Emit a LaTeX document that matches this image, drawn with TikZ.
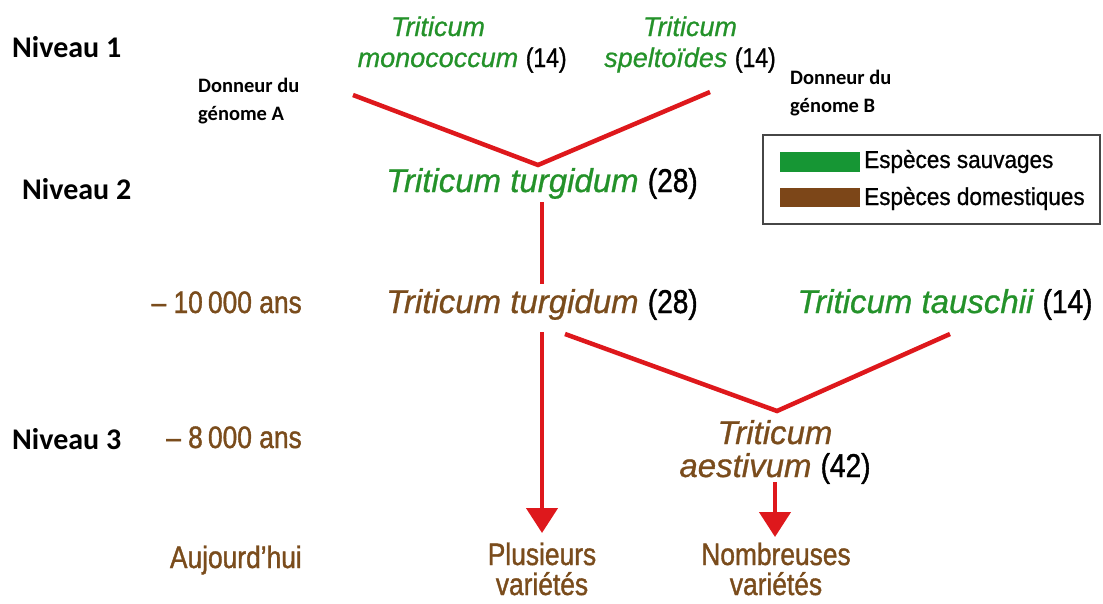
\documentclass[tikz,border=0pt]{standalone}
\usepackage{fontspec}
\setmainfont{Liberation Sans}
\newfontfamily\condfont[FakeStretch=0.85, FakeBold=1.2]{Liberation Sans}
\newfontfamily\specfont[FakeBold=0.8]{Liberation Sans}
\newfontfamily\legfont[FakeStretch=0.92, FakeBold=0.8]{Liberation Sans}
\newfontfamily\labelfont{Carlito}
\usetikzlibrary{arrows.meta}
\definecolor{wildgreen}{RGB}{36,146,42}
\definecolor{domebrown}{RGB}{122,76,28}
\definecolor{crossred}{RGB}{222,24,28}
\definecolor{boxgray}{RGB}{70,70,70}
\definecolor{swatchgreen}{RGB}{22,150,52}
\definecolor{swatchbrown}{RGB}{124,70,24}
\newcommand{\chromnb}[1]{{\color{black}\condfont\upshape(#1)}}

\begin{document}
\begin{tikzpicture}[
    x=1pt, y=-1pt,
    >={Triangle[width=31pt, length=25pt]},
    level/.style={anchor=base west, inner sep=0pt, font=\labelfont\bfseries\fontsize{30}{30}\selectfont},
    donor/.style={anchor=base west, inner sep=0pt, align=left, font=\labelfont\bfseries\fontsize{20.5}{28}\selectfont},
    wildsmall/.style={anchor=base, inner sep=0pt, align=center, text=wildgreen, font=\specfont\itshape\fontsize{27}{31}\selectfont},
    species/.style={anchor=base, inner sep=0pt, align=center, font=\specfont\itshape\fontsize{33}{33}\selectfont},
    era/.style={anchor=base east, inner sep=0pt, text=domebrown, font=\condfont\fontsize{31}{31}\selectfont},
    result/.style={anchor=base, inner sep=0pt, align=center, text=domebrown, font=\condfont\fontsize{31}{30}\selectfont},
    legtext/.style={anchor=base west, inner sep=0pt, font=\legfont\fontsize{24.5}{24}\selectfont},
    cross/.style={crossred, line width=4.5pt},
    lineage/.style={crossred, line width=4.5pt, ->}
]
\useasboundingbox (0,0) rectangle (1103,603);

% Levels
\node[level] (niv1) at (12,57) {Niveau 1};
\node[level] (niv2) at (22,199) {Niveau 2};
\node[level] (niv3) at (12,449) {Niveau 3};

% Genome donors
\node[donor] (donA) at (198,120) {Donneur du\\génome A};
\node[donor] (donB) at (790,112) {Donneur du\\génome B};

% Level 1 species
\node[wildsmall] (mono) at (438,67) {Triticum\\monococcum\rlap{ \chromnb{14}}};
\node[wildsmall] (spelt) at (690,67) {Triticum\\speltoïdes \chromnb{14}};

% Level 2 species
\node[species, text=wildgreen] (turgW) at (542,192) {Triticum turgidum \chromnb{28}};

% Domestication
\node[era] (t10) at (302,313) {– 10\,000 ans};
\node[species, text=domebrown] (turgD) at (542,313) {Triticum turgidum \chromnb{28}};
\node[species, text=wildgreen] (tausch) at (945,313) {Triticum tauschii \chromnb{14}};

\node[era] (t8) at (302,448) {– 8\,000 ans};
\node[species, text=domebrown] (aest) at (775,477) {Triticum\\aestivum \chromnb{42}};

% Today
\node[era] (today) at (302,568) {Aujourd’hui};
\node[result] (plus) at (542,595) {Plusieurs\\variétés};
\node[result] (nomb) at (776,595) {Nombreuses\\variétés};

% Crossings
\coordinate (monoEnd) at (353,95);
\coordinate (speltEnd) at (710,92);
\coordinate (crossAB) at (538,165);
\draw[cross, line join=miter] (monoEnd) -- (crossAB) -- (speltEnd);

\coordinate (turgWfoot) at (542,202);
\coordinate (turgDhead) at (542,284);
\draw[cross] (turgWfoot) -- (turgDhead);

\coordinate (turgDfoot) at (565,334);
\coordinate (tauschFoot) at (950,334);
\coordinate (crossABD) at (777,411);
\draw[cross, line join=miter] (turgDfoot) -- (crossABD) -- (tauschFoot);

% Lineages to today
\coordinate (turgDstem) at (542,332);
\coordinate (plusTip) at (542,533);
\draw[lineage] (turgDstem) -- (plusTip);
\coordinate (aestStem) at (775,482);
\coordinate (nombTip) at (775,537);
\draw[lineage] (aestStem) -- (nombTip);

% Legend
\draw[boxgray, line width=1.3pt] (763,135) rectangle (1100,224);
\fill[swatchgreen] (780,152) rectangle (860,172);
\fill[swatchbrown] (780,188) rectangle (860,207);
\node[legtext] (legW) at (864,168) {Espèces sauvages};
\node[legtext] (legD) at (864,205) {Espèces domestiques};

\end{tikzpicture}
\end{document}
